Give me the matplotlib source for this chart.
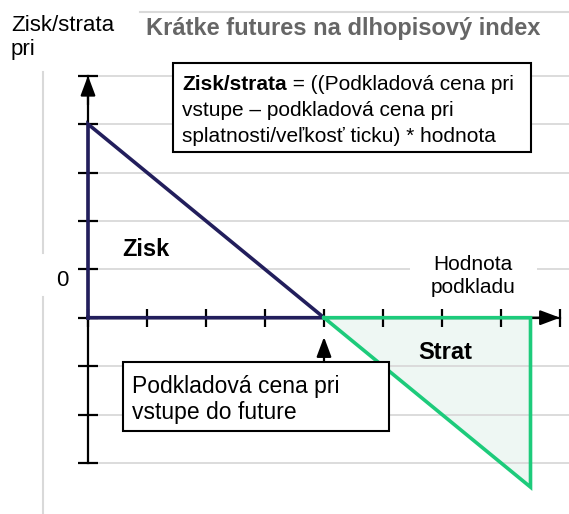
import numpy as np
import matplotlib.pyplot as plt
from matplotlib.patches import Rectangle, Polygon
from matplotlib.lines import Line2D

plt.rcParams['font.family'] = ['Liberation Sans', 'DejaVu Sans']

# payoff diagram of a short bond index future
x_ticks = [0, 1, 2, 3, 4, 5, 6, 7, 8]
y_ticks = [-3, -2, -1, 0, 1, 2, 3, 4, 5]
grid_levels = [-3, -2, -1, 1, 2, 3, 4, 5]

# profit triangle (navy) and loss triangle (green)
zisk_x = [0, 0, 4, 0]
zisk_y = [0, 4, 0, 0]
strata_x = [4, 7.5, 7.5, 4]
strata_y = [0, 0, -3.5, 0]
entry_price = 4

title = 'Krátke futures na dlhopisový index'
ylabel_lines = ['Zisk/strata', 'pri']
xlabel_lines = ['Hodnota', 'podkladu']
formula_bold = 'Zisk/strata'
formula_lines = [' = ((Podkladová cena pri', 'vstupe – podkladová cena pri',
                 'splatnosti/veľkosť ticku) * hodnota']
entry_lines = ['Podkladová cena pri', 'vstupe do future']

navy = '#221e5c'
green = '#1dcb7b'
fill = '#eef7f3'
grid = '#d9d9d9'

W, H = 569, 514
X0, Y0, UX, UY = 88, 317.7, 59.0, 48.4


def px(x, y):
    # pixel position in the picture -> data units
    return (x - X0) / UX, (Y0 - y) / UY


fig = plt.figure(figsize=(W / 100, H / 100), dpi=100)
ax = fig.add_axes([0, 0, 1, 1])
ax.set_xlim(px(0, 0)[0], px(W, 0)[0])
ax.set_ylim(px(0, H)[1], px(0, 0)[1])
ax.axis('off')

# frame lines of the chart area
fig.add_artist(Line2D([43 / W, 43 / W], [1 - 72 / H, 1 - 253 / H], color=grid, lw=1.5))
fig.add_artist(Line2D([43 / W, 43 / W], [1 - 297 / H, 0], color=grid, lw=1.5))
fig.add_artist(Line2D([140 / W, 1], [1 - 12 / H, 1 - 12 / H], color=grid, lw=1.5))

# gridlines
gx0 = px(97, 0)[0]
ax.hlines(grid_levels, gx0, ax.get_xlim()[1], color=grid, lw=1.3, zorder=2)

# loss area fill
ax.add_patch(Polygon(np.column_stack([strata_x, strata_y]), closed=True,
                     facecolor=fill, edgecolor='none', zorder=1))

# axes with arrows
tk = 10 / UX
arrow = dict(arrowstyle='-|>,head_length=0.8,head_width=0.3', mutation_scale=15,
             color='black', lw=1.6, shrinkA=0, shrinkB=0)
ax.plot([0, 0], [y_ticks[0], y_ticks[-1]], color='black', lw=1.6, zorder=3)
ax.plot([0, x_ticks[-1]], [0, 0], color='black', lw=1.6, zorder=3)
ax.hlines(y_ticks, -tk, tk, color='black', lw=1.6, zorder=3)
ax.vlines(x_ticks, -9 / UY, 9 / UY, color='black', lw=1.6, zorder=3)
ax.annotate('', xy=(0, y_ticks[-1]), xytext=(0, y_ticks[-1] - 0.6),
            arrowprops=arrow, zorder=3)
ax.annotate('', xy=(x_ticks[-1], 0), xytext=(x_ticks[-1] - 0.6, 0),
            arrowprops=arrow, zorder=3)

# payoff lines
ax.plot(zisk_x, zisk_y, color=navy, lw=2.6, zorder=4, solid_joinstyle='miter')
ax.plot(strata_x, strata_y, color=green, lw=2.6, zorder=4, solid_joinstyle='miter')

# texts
fig.text(11 / W, 1 - 31 / H, ylabel_lines[0], ha='left', va='baseline', fontsize=16)
fig.text(11 / W, 1 - 55 / H, ylabel_lines[1], ha='left', va='baseline', fontsize=16)
fig.text(343 / W, 1 - 35 / H, title, ha='center', va='baseline', fontsize=17,
         fontweight='bold', color='#666666')
ax.text(*px(62, 280), '0', ha='center', va='center', fontsize=16, zorder=5)
ax.text(*px(122, 256), 'Zisk', ha='left', va='baseline', fontsize=17,
        fontweight='bold', zorder=5)
ax.text(*px(418, 359), 'Strat', ha='left', va='baseline', fontsize=17,
        fontweight='bold', zorder=5)

# white gap in the gridline behind the x axis title
hx0, hy0 = px(410, 285)
hx1, hy1 = px(537, 255)
ax.add_patch(Rectangle((hx0, hy0), hx1 - hx0, hy1 - hy0, facecolor='white',
                       edgecolor='none', zorder=2.5))
for line, yb in zip(xlabel_lines, [270, 293]):
    ax.text(*px(473, yb), line, ha='center', va='baseline', fontsize=15, zorder=5)

# formula box
bx0, by0 = px(173, 152)
bx1, by1 = px(531, 63)
ax.add_patch(Rectangle((bx0, by0), bx1 - bx0, by1 - by0, facecolor='white',
                       edgecolor='black', lw=1.5, zorder=6))
t = ax.text(*px(182, 90), formula_bold, ha='left', va='baseline', fontsize=15,
            fontweight='bold', zorder=7)
fig.canvas.draw()
bold_w = t.get_window_extent().width
ax.text(*px(182 + bold_w, 90), formula_lines[0], ha='left', va='baseline',
        fontsize=15, zorder=7)
for line, yb in zip(formula_lines[1:], [116.5, 142]):
    ax.text(*px(182, yb), line, ha='left', va='baseline', fontsize=15, zorder=7)

# entry price box with arrow
ex0, ey0 = px(123, 431)
ex1, ey1 = px(389, 362)
ax.add_patch(Rectangle((ex0, ey0), ex1 - ex0, ey1 - ey0, facecolor='white',
                       edgecolor='black', lw=1.5, zorder=6))
for line, yb in zip(entry_lines, [393, 419.5]):
    ax.text(*px(132, yb), line, ha='left', va='baseline', fontsize=16.5, zorder=7)
ax.annotate('', xy=(entry_price, px(0, 337)[1]), xytext=(entry_price, ey1),
            arrowprops=arrow, zorder=7)

fig.savefig('out.png', dpi=100)
